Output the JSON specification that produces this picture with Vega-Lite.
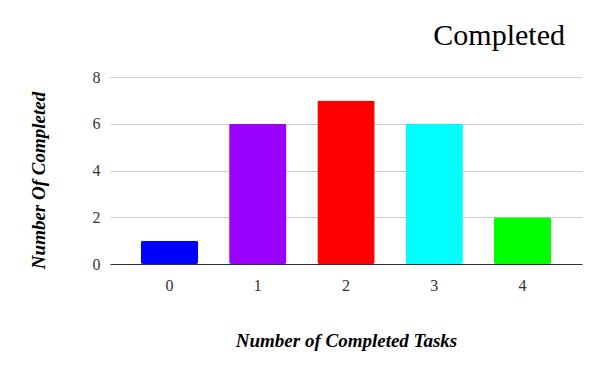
{
  "$schema": "https://vega.github.io/schema/vega-lite/v6.json",
  "autosize": "none",
  "width": 472,
  "height": 187,
  "padding": {"left": 110, "top": 77, "right": 18, "bottom": 107},
  "background": "white",
  "config": {"view": {"stroke": null}, "font": "Liberation Serif"},
  "title": {
    "text": "Completed",
    "anchor": "end",
    "fontSize": 30,
    "fontWeight": "normal",
    "font": "Liberation Serif",
    "color": "#000000",
    "dx": -17,
    "dy": 36,
    "offset": 30,
    "baseline": "alphabetic"
  },
  "data": {
    "values": [
      {"tasks": "0", "count": 1, "color": "#0000ff"},
      {"tasks": "1", "count": 6, "color": "#9900ff"},
      {"tasks": "2", "count": 7, "color": "#ff0000"},
      {"tasks": "3", "count": 6, "color": "#00ffff"},
      {"tasks": "4", "count": 2, "color": "#00ff00"}
    ]
  },
  "mark": {"type": "bar", "cornerRadius": 2},
  "encoding": {
    "x": {
      "field": "tasks",
      "type": "ordinal",
      "scale": {"paddingInner": 0.35, "paddingOuter": 0.35},
      "axis": {
        "title": "Number of Completed Tasks",
        "titleFont": "Liberation Serif",
        "titleFontSize": 19,
        "titleFontWeight": "bold",
        "titleFontStyle": "italic",
        "titleColor": "#000000",
        "titleY": 76,
        "titleBaseline": "middle",
        "labelAngle": 0,
        "labelFontSize": 16,
        "labelColor": "#333333",
        "labelPadding": 13,
        "ticks": false,
        "domainColor": "#333333",
        "domainWidth": 1
      }
    },
    "y": {
      "field": "count",
      "type": "quantitative",
      "scale": {"domain": [0, 8]},
      "axis": {
        "values": [0, 2, 4, 6, 8],
        "title": "Number Of Completed",
        "titleFont": "Liberation Serif",
        "titleFontSize": 19,
        "titleFontWeight": "bold",
        "titleFontStyle": "italic",
        "titleColor": "#000000",
        "titleX": -72,
        "titleY": 103,
        "titleBaseline": "middle",
        "labelFontSize": 16,
        "labelColor": "#333333",
        "labelPadding": 10,
        "ticks": false,
        "domain": false,
        "gridColor": "#cccccc"
      }
    },
    "color": {"field": "color", "type": "nominal", "scale": null}
  }
}
